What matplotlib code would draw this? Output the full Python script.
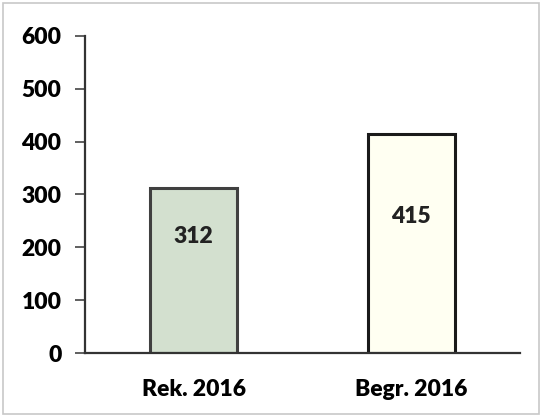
import matplotlib.pyplot as plt
from matplotlib.patches import Rectangle

plt.rcParams['font.family'] = ['Lato', 'DejaVu Sans']
plt.rcParams['font.weight'] = 'heavy'

# Data
categories = ['Rek. 2016', 'Begr. 2016']
values = [312, 415]
label_y = [220, 258]
bar_colors = ['#d3e0cf', '#fffff2']
edge_colors = ['#404040', '#1a1a1a']
y_ticks = [0, 100, 200, 300, 400, 500, 600]

fig = plt.figure(figsize=(5.42, 4.17), dpi=100)
ax = fig.add_axes([85 / 542, (417 - 353) / 417, 435 / 542, 317 / 417])

x = range(len(categories))
ax.bar(x, values, width=0.4, color=bar_colors, edgecolor=edge_colors, linewidth=2.2, zorder=2)

for xi, v, ly in zip(x, values, label_y):
    ax.text(xi, ly, str(v), ha='center', va='center', fontsize=16.5, fontweight='heavy', color='#222222')

ax.set_xlim(-0.5, 1.5)
ax.set_ylim(0, 600)
ax.set_yticks(y_ticks)
ax.set_xticks(list(x))
ax.set_xticklabels(categories)

for side in ['top', 'right']:
    ax.spines[side].set_visible(False)
ax.spines['left'].set_color('#333333')
ax.spines['left'].set_linewidth(1.6)
ax.spines['bottom'].set_color('#333333')
ax.spines['bottom'].set_linewidth(1.6)

ax.tick_params(axis='y', length=7, width=1.2, color='#444444', labelsize=16.5, pad=10)
ax.tick_params(axis='x', length=0, labelsize=16.5, pad=19)

# outer frame
fig.patches.append(Rectangle((3 / 542, 3 / 417), 536 / 542, 411 / 417, transform=fig.transFigure,
                             fill=False, edgecolor='#c8c8c8', linewidth=1.2))

plt.savefig('out.png', dpi=100)
